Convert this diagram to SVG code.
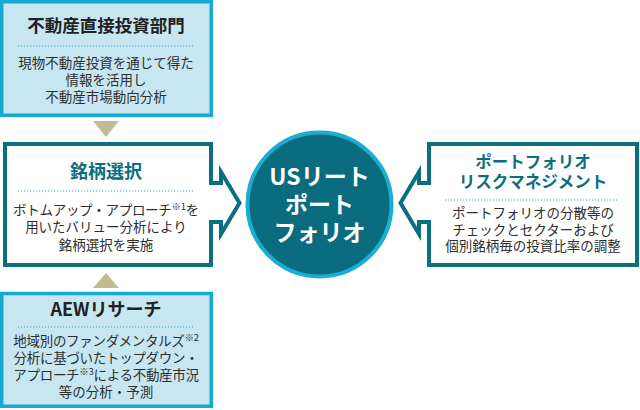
<svg xmlns="http://www.w3.org/2000/svg" width="640" height="410" viewBox="0 0 640 410">
<style>
.lb{fill:#c7e6f2;stroke:#14aad2;stroke-width:3.5}
.wb{fill:#fff;stroke:#0b6e81;stroke-width:4;stroke-linejoin:miter;stroke-miterlimit:10}
.tri{fill:#c1bb93}
.t{font-family:"Noto Sans CJK JP","Noto Sans",sans-serif;text-anchor:middle}
.tb{font-weight:bold;fill:#222}
.tt{font-weight:bold;fill:#0b6e81}
.body{font-size:13.5px;fill:#2e2e2e}
.dl{stroke:#3aa7c8;stroke-width:1;stroke-dasharray:1.2 1.8}
.sup{font-size:9.5px}
.ct{font-size:23px;font-weight:bold;fill:#fff}
</style>
<g id="connectors">
<polygon class="tri" points="93,121 119,121 106,137"/>
<polygon class="tri" points="106,273 119,288 93,288"/>
</g>
<g id="node-direct">
<rect class="lb" x="1.75" y="1.75" width="209.5" height="113.5"/>
<text class="t tb" x="106" y="32" font-size="17.5">不動産直接投資部門</text>
<line class="dl" x1="18" y1="46" x2="193" y2="46"/>
<text class="t body" x="106" y="67.5">現物不動産投資を通じて得た</text>
<text class="t body" x="106" y="84.5">情報を活用し</text>
<text class="t body" x="106" y="101.5">不動産市場動向分析</text>
</g>
<g id="node-selection">
<path class="wb" d="M5,144 H211 V183 H221 V172 L239.5,203 L221,234 V222 H211 V265 H5 Z"/>
<text class="t tt" x="106" y="178" font-size="18">銘柄選択</text>
<line class="dl" x1="18" y1="191" x2="193" y2="191"/>
<text class="t body" x="106" y="214.5" letter-spacing="-0.3">ボトムアップ・アプローチ<tspan class="sup" dy="-4.5">※1</tspan><tspan dy="4.5">を</tspan></text>
<text class="t body" x="106" y="232">用いたバリュー分析により</text>
<text class="t body" x="106" y="249.5">銘柄選択を実施</text>
</g>
<g id="node-research">
<rect class="lb" x="1.75" y="293.5" width="209.5" height="112.75"/>
<text class="t tb" x="106" y="316" font-size="18">AEWリサーチ</text>
<line class="dl" x1="18" y1="327" x2="193" y2="327"/>
<text class="t body" x="106" y="345.7" letter-spacing="-0.3">地域別のファンダメンタルズ<tspan class="sup" dy="-4.5">※2</tspan></text>
<text class="t body" x="106" y="362.7" letter-spacing="-0.3">分析に基づいたトップダウン・</text>
<text class="t body" x="106" y="379.6" letter-spacing="-0.3">アプローチ<tspan class="sup" dy="-4.5">※3</tspan><tspan dy="4.5">による不動産市況</tspan></text>
<text class="t body" x="106" y="396.5">等の分析・予測</text>
</g>
<g id="node-portfolio">
<circle cx="319.5" cy="204.5" r="72" fill="#0b6c80" stroke="#1aaed4" stroke-width="4"/>
<text class="t ct" x="319.5" y="185">USリート</text>
<text class="t ct" x="319.5" y="213.3">ポート</text>
<text class="t ct" x="319.5" y="241.3">フォリオ</text>
</g>
<g id="node-risk">
<path class="wb" d="M429,144 H637 V265 H429 V222 H419 V234 L400.5,203 L419,172 V183 H429 Z"/>
<text class="t tt" x="533" y="167.5" font-size="16.5">ポートフォリオ</text>
<text class="t tt" x="533" y="187.5" font-size="16.5">リスクマネジメント</text>
<line class="dl" x1="445" y1="200" x2="619" y2="200"/>
<text class="t body" x="533" y="218">ポートフォリオの分散等の</text>
<text class="t body" x="533" y="234.7">チェックとセクターおよび</text>
<text class="t body" x="533" y="251.4">個別銘柄毎の投資比率の調整</text>
</g>
</svg>
